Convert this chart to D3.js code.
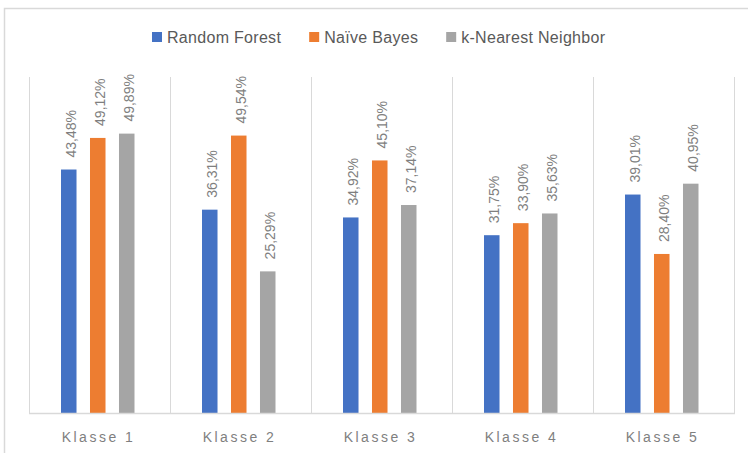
<!DOCTYPE html>
<html>
<head>
<meta charset="utf-8">
<script src="https://cdn.jsdelivr.net/npm/d3@7"></script>
<style>
  body { margin: 0; background: #fff; }
  svg { display: block; }
</style>
</head>
<body>
<svg class="graphique" width="748" height="453"></svg>
<script>
// données
const klassen = ["Klasse 1", "Klasse 2", "Klasse 3", "Klasse 4", "Klasse 5"]
const serien = ["Random Forest", "Naïve Bayes", "k-Nearest Neighbor"]
const randomForest = [0.4348, 0.3631, 0.3492, 0.3175, 0.3901]
const naiveBayes = [0.4912, 0.4954, 0.4510, 0.3390, 0.2840]
const kNearest = [0.4989, 0.2529, 0.3714, 0.3563, 0.4095]
const farben = ["#4472C4", "#ED7D31", "#A5A5A5"]

const werte = [randomForest, naiveBayes, kNearest]

const de = d3.formatLocale({ decimal: ",", thousands: ".", grouping: [3], currency: ["", "€"] })
const pct = de.format(".2%")

const svg = d3.select(".graphique")

// rahmen
svg.append("rect")
  .attr("x", 4.5).attr("y", 8.5)
  .attr("width", 760).attr("height", 460)
  .attr("fill", "none")
  .attr("stroke", "#d9d9d9")
  .attr("stroke-width", 1.5)

const plotLeft = 29, plotRight = 734, plotTop = 77, plotBottom = 413

const x0 = d3.scaleBand().domain(klassen).range([plotLeft, plotRight])
const x1 = d3.scaleBand().domain(serien).range([32, 105.5]).paddingInner(0.465)
const y = d3.scaleLinear().domain([0, 0.6]).range([plotBottom, plotTop])

// vertikale trennlinien
const grenzen = klassen.map(k => x0(k)).concat([plotRight])
svg.append("g")
  .selectAll("line")
  .data(grenzen)
  .join("line")
  .attr("x1", d => d + 0.5).attr("x2", d => d + 0.5)
  .attr("y1", plotTop).attr("y2", plotBottom)
  .attr("stroke", "#d9d9d9")
  .attr("stroke-width", 1)

// balken
const gruppen = svg.append("g")
  .selectAll("g")
  .data(klassen)
  .join("g")
  .attr("transform", k => "translate(" + x0(k) + ",0)")

gruppen.selectAll("rect")
  .data((k, i) => serien.map((s, j) => ({ s: s, v: werte[j][i], c: farben[j] })))
  .join("rect")
  .attr("x", d => x1(d.s))
  .attr("width", x1.bandwidth())
  .attr("y", d => y(d.v))
  .attr("height", d => plotBottom - y(d.v))
  .attr("fill", d => d.c)

// datenbeschriftung
gruppen.selectAll("text")
  .data((k, i) => serien.map((s, j) => ({ s: s, v: werte[j][i] })))
  .join("text")
  .attr("transform", d => "translate(" + (x1(d.s) + x1.bandwidth() / 2 + 2) + "," + (y(d.v) - 12) + ") rotate(-90)")
  .attr("dy", "0.36em")
  .attr("text-anchor", "start")
  .attr("font-family", "'Liberation Sans', Arial, sans-serif")
  .attr("font-size", 14)
  .attr("fill", "#7f7f7f")
  .text(d => pct(d.v))

// x-achse
svg.append("line")
  .attr("x1", plotLeft).attr("x2", plotRight + 1)
  .attr("y1", plotBottom + 0.5).attr("y2", plotBottom + 0.5)
  .attr("stroke", "#d9d9d9")
  .attr("stroke-width", 1.5)

svg.append("g")
  .selectAll("text")
  .data(klassen)
  .join("text")
  .attr("x", k => x0(k) + x0.bandwidth() / 2 - 1)
  .attr("y", 437)
  .attr("dy", "0.35em")
  .attr("text-anchor", "middle")
  .attr("font-family", "'Liberation Sans', Arial, sans-serif")
  .attr("font-size", 14)
  .attr("letter-spacing", "2.5px")
  .attr("fill", "#7f7f7f")
  .text(k => k)

// legende
const legende = svg.append("g")
let lx = 0
serien.forEach((s, i) => {
  const g = legende.append("g")
  g.append("rect").attr("x", 0).attr("y", -5).attr("width", 10).attr("height", 10).attr("fill", farben[i])
  const t = g.append("text")
    .attr("x", 15).attr("dy", "0.36em")
    .attr("font-family", "'Liberation Sans', Arial, sans-serif")
    .attr("font-size", 16)
    .attr("letter-spacing", "0.3px")
    .attr("fill", "#595959")
    .text(s)
  const w = 15 + t.node().getComputedTextLength()
  g.attr("transform", "translate(" + lx + ",0)")
  lx += w + 28
})
legende.attr("transform", "translate(152,37)")
</script>
</body>
</html>
